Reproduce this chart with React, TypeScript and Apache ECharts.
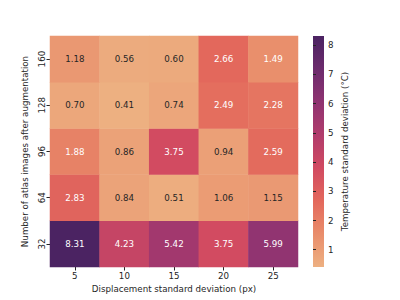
import React, { useEffect, useRef } from "react";
import * as echarts from "echarts";

const xCategories = ["5", "10", "15", "20", "25"];
const yCategories = ["32", "64", "96", "128", "160"];
// rows from bottom (32) to top (160)
const rowValues = [
  [8.31, 4.23, 5.42, 3.75, 5.99],
  [2.83, 0.84, 0.51, 1.06, 1.15],
  [1.88, 0.86, 3.75, 0.94, 2.59],
  [0.7, 0.41, 0.74, 2.49, 2.28],
  [1.18, 0.56, 0.6, 2.66, 1.49],
];
const colorbarTicks = [1, 2, 3, 4, 5, 6, 7, 8];
const flare = ["#edb081", "#e98d6b", "#e3685c", "#d14a61", "#b13c6c", "#8f3371", "#6c2b6d", "#4b2362"];
const vMin = 0.41;
const vMax = 8.31;

const FONT = "DejaVu Sans";
const FS = 8.7;

export default function App() {
  const ref = useRef<HTMLDivElement>(null);
  useEffect(() => {
    if (!ref.current) return;
    const chart = echarts.init(ref.current, undefined, { renderer: "svg" });
    const data: any[] = [];
    rowValues.forEach((row, yi) =>
      row.forEach((v, xi) => {
        data.push({
          value: [xi, yi, v],
          label: { color: v > 1.3 ? "#ffffff" : "#262626" },
        });
      })
    );
    const stops = flare.map((c, i) => ({ offset: i / (flare.length - 1), color: c }));
    chart.setOption({
      animation: false,
      textStyle: { fontFamily: FONT },
      grid: [
        { left: 50, right: 102, top: 36, bottom: 33 },
        { left: 313, width: 11, top: 36, bottom: 33 },
      ],
      graphic: [
        {
          type: "rect",
          left: 313,
          top: 36,
          shape: { width: 11, height: 231 },
          style: {
            fill: new echarts.graphic.LinearGradient(0, 1, 0, 0, stops),
          },
          silent: true,
        },
      ],
      xAxis: [
        {
          type: "category",
          data: xCategories,
          gridIndex: 0,
          axisLine: { show: false },
          axisTick: { show: true, alignWithLabel: true, length: 3.5, lineStyle: { color: "#262626" } },
          axisLabel: { fontSize: FS, color: "#262626", margin: 4, fontFamily: FONT },
          name: "Displacement standard deviation (px)",
          nameLocation: "middle",
          nameGap: 17,
          nameTextStyle: { fontSize: FS, color: "#262626", fontFamily: FONT },
          splitLine: { show: false },
        },
        { type: "value", gridIndex: 1, show: false, min: 0, max: 1 },
      ],
      yAxis: [
        {
          type: "category",
          data: yCategories,
          gridIndex: 0,
          axisLine: { show: false },
          axisTick: { show: true, alignWithLabel: true, length: 3.5, lineStyle: { color: "#262626" } },
          axisLabel: { fontSize: FS, color: "#262626", rotate: 90, margin: 4, fontFamily: FONT },
          name: "Number of atlas images after augmentation",
          nameLocation: "middle",
          nameGap: 14,
          nameTextStyle: { fontSize: FS, color: "#262626", fontFamily: FONT },
          splitLine: { show: false },
        },
        {
          type: "value",
          gridIndex: 1,
          position: "right",
          min: vMin,
          max: vMax,
          axisLine: { show: false },
          splitLine: { show: false },
          axisTick: { show: true, length: 3, lineStyle: { color: "#262626" }, customValues: colorbarTicks },
          axisLabel: { fontSize: FS, color: "#262626", margin: 4, fontFamily: FONT, customValues: colorbarTicks },
          name: "Temperature standard deviation (°C)",
          nameLocation: "middle",
          nameGap: 16,
          nameTextStyle: { fontSize: FS, color: "#262626", fontFamily: FONT },
        },
      ],
      visualMap: {
        type: "continuous",
        show: false,
        min: vMin,
        max: vMax,
        seriesIndex: 0,
        inRange: { color: flare },
      },
      series: [
        {
          type: "heatmap",
          xAxisIndex: 0,
          yAxisIndex: 0,
          data,
          label: {
            show: true,
            fontSize: FS,
            fontFamily: FONT,
            formatter: (p: any) => p.value[2].toFixed(2),
          },
          itemStyle: { borderWidth: 0 },
          emphasis: { disabled: true },
        },
      ],
    });
    return () => chart.dispose();
  }, []);
  return <div ref={ref} style={{ width: 400, height: 300, position: "absolute", left: 0, top: 0 }} />;
}
